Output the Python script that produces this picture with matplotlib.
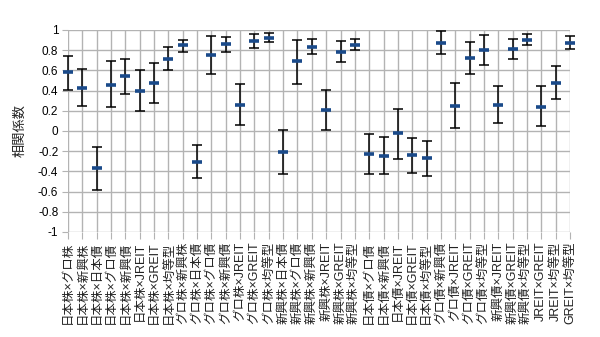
import matplotlib
matplotlib.use("Agg")
import matplotlib.pyplot as plt
import numpy as np

plt.rcParams['font.family'] = ['Liberation Sans', 'Noto Sans CJK JP', 'DejaVu Sans']

# asset pairs
pairs = [
    "日本株×グロ株", "日本株×新興株", "日本株×日本債", "日本株×グロ債", "日本株×新興債",
    "日本株×JREIT", "日本株×GREIT", "日本株×均等型", "グロ株×新興株", "グロ株×日本債",
    "グロ株×グロ債", "グロ株×新興債", "グロ株×JREIT", "グロ株×GREIT", "グロ株×均等型",
    "新興株×日本債", "新興株×グロ債", "新興株×新興債", "新興株×JREIT", "新興株×GREIT",
    "新興株×均等型", "日本債×グロ債", "日本債×新興債", "日本債×JREIT", "日本債×GREIT",
    "日本債×均等型", "グロ債×新興債", "グロ債×JREIT", "グロ債×GREIT", "グロ債×均等型",
    "新興債×JREIT", "新興債×GREIT", "新興債×均等型", "JREIT×GREIT", "JREIT×均等型",
    "GREIT×均等型",
]

# correlation estimate and its interval
corr = [0.58, 0.43, -0.37, 0.46, 0.54, 0.40, 0.48, 0.71, 0.85, -0.31,
        0.75, 0.86, 0.26, 0.89, 0.92, -0.21, 0.69, 0.83, 0.21, 0.78,
        0.85, -0.23, -0.25, -0.02, -0.24, -0.27, 0.87, 0.25, 0.72, 0.80,
        0.26, 0.81, 0.90, 0.24, 0.48, 0.87]
upper = [0.74, 0.61, -0.155, 0.69, 0.71, 0.60, 0.67, 0.83, 0.90, -0.14,
         0.94, 0.93, 0.47, 0.96, 0.97, 0.01, 0.90, 0.91, 0.41, 0.89,
         0.91, -0.03, -0.06, 0.22, -0.07, -0.10, 0.99, 0.48, 0.88, 0.95,
         0.45, 0.91, 0.96, 0.45, 0.64, 0.94]
lower = [0.41, 0.25, -0.58, 0.24, 0.37, 0.20, 0.28, 0.60, 0.78, -0.47,
         0.56, 0.78, 0.06, 0.82, 0.88, -0.43, 0.47, 0.76, 0.01, 0.68,
         0.80, -0.43, -0.43, -0.28, -0.42, -0.45, 0.76, 0.03, 0.56, 0.65,
         0.08, 0.71, 0.85, 0.05, 0.32, 0.81]

corr = np.array(corr)
err = [corr - np.array(lower), np.array(upper) - corr]
x = np.arange(len(pairs))

fig = plt.figure(figsize=(6, 3.37), dpi=100)
ax = fig.add_axes([0.1133, 0.3116, 0.8367, 0.5994])

eb = ax.errorbar(x, corr, yerr=err, fmt='none', ecolor='black', elinewidth=1.1,
                 capsize=3.5, capthick=1.1, zorder=3)
for artist in eb.lines[1] + eb.lines[2]:
    artist.set_clip_on(False)
ax.plot(x, corr, linestyle='none', marker='_', markersize=7.5,
        markeredgewidth=2.6, color='#1a4a8a', zorder=4, clip_on=False)

ax.set_xlim(0, len(pairs) - 1)
ax.set_ylim(-1, 1)
ax.set_yticks(np.arange(-1, 1.01, 0.2))
ax.set_yticklabels(['-1', '-0.8', '-0.6', '-0.4', '-0.2', '0',
                    '0.2', '0.4', '0.6', '0.8', '1'])
ax.set_xticks(x)
ax.set_xticklabels(pairs, rotation=90, fontsize=9, color='#222222')
ax.tick_params(axis='y', labelsize=8.5, length=4, color='#b3b3b3', pad=3)
ax.tick_params(axis='x', length=5, color='#b3b3b3', pad=2)
ax.grid(True, color='#b3b3b3', linewidth=1)
ax.set_axisbelow(True)
for s in ax.spines.values():
    s.set_visible(False)

ax.set_ylabel('相関係数', fontsize=9.5, color='#222222', labelpad=8)

fig.savefig('out.png', dpi=100)
